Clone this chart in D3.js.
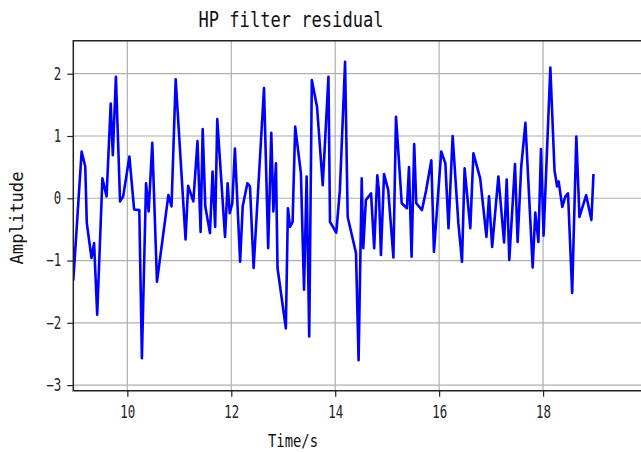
<!DOCTYPE html>
<html>
<head>
<meta charset="utf-8">
<script src="https://cdn.jsdelivr.net/npm/d3@7"></script>
<style>
body { margin: 0; background: #fff; }
</style>
</head>
<body>
<div class="chart"></div>
<script>
// time stamps (s) of each vertex
var times = [8.96, 9.12, 9.19, 9.22, 9.31, 9.36, 9.42, 9.52, 9.60, 9.68, 9.72, 9.78, 9.86, 9.92,
	10.04, 10.13, 10.23, 10.28, 10.36, 10.41, 10.48, 10.57, 10.79, 10.85, 10.93, 11.12, 11.17, 11.27,
	11.35, 11.41, 11.45, 11.50, 11.59, 11.64, 11.69, 11.73, 11.88, 11.93, 11.97, 12.02, 12.07, 12.17,
	12.22, 12.31, 12.36, 12.43, 12.63, 12.71, 12.77, 12.81, 12.86, 12.89, 13.05, 13.09, 13.13, 13.18,
	13.23, 13.34, 13.40, 13.45, 13.50, 13.55, 13.65, 13.76, 13.87, 13.90, 14.02, 14.09, 14.19, 14.24,
	14.40, 14.45, 14.51, 14.54, 14.59, 14.69, 14.75, 14.81, 14.84, 14.88, 14.94, 15.02, 15.12, 15.17,
	15.28, 15.38, 15.42, 15.47, 15.52, 15.56, 15.67, 15.75, 15.85, 15.90, 16.04, 16.12, 16.18, 16.26,
	16.37, 16.44, 16.49, 16.60, 16.66, 16.79, 16.91, 16.96, 17.02, 17.14, 17.25, 17.30, 17.35, 17.46,
	17.51, 17.58, 17.66, 17.80, 17.85, 17.91, 17.96, 18.01, 18.14, 18.22, 18.27, 18.30, 18.37, 18.43,
	18.48, 18.56, 18.64, 18.70, 18.83, 18.93, 18.97];

var residual = [-1.32, 0.75, 0.51, -0.40, -0.96, -0.72, -1.87, 0.32, 0.03, 1.52, 0.69, 1.95, -0.05, 0.03,
	0.67, -0.18, -0.19, -2.57, 0.24, -0.21, 0.89, -1.34, 0.05, -0.13, 1.91, -0.66, 0.20, -0.05,
	0.92, -0.54, 1.11, -0.13, -0.56, 0.43, -0.46, 1.27, -0.62, 0.24, -0.24, -0.08, 0.80, -1.02,
	-0.13, 0.24, 0.19, -1.12, 1.77, -0.80, 1.05, -0.21, 0.56, -1.12, -2.09, -0.16, -0.46, -0.38,
	1.15, 0.40, -1.47, 0.35, -2.22, 1.90, 1.47, 0.21, 1.95, -0.38, -0.55, 0.13, 2.19, -0.30,
	-0.88, -2.60, 0.32, -0.80, -0.03, 0.08, -0.80, 0.37, 0.13, -0.91, 0.39, 0.13, -0.95, 1.31,
	-0.08, -0.16, 0.50, -0.94, 0.87, -0.08, -0.19, 0.13, 0.61, -0.86, 0.75, 0.56, -0.48, 1.00,
	-0.40, -1.02, 0.48, -0.48, 0.72, 0.32, -0.62, 0.03, -0.78, 0.35, -0.71, 0.30, -0.99, 0.55,
	-0.70, 0.51, 1.21, -1.11, -0.23, -0.70, 0.79, -0.60, 2.10, 0.45, 0.19, 0.27, -0.14, 0.03,
	0.08, -1.52, 0.99, -0.30, 0.05, -0.35, 0.39];

var xTicks = [10, 12, 14, 16, 18];
var yTicks = [-3, -2, -1, 0, 1, 2];

var chart = {
	init: function() {
		var w = 641;
		var h = 452;
		var left = 73.3, right = 647, top = 40.7, bottom = 390.7;
		var font = 'DejaVu Sans Mono, monospace';

		var svg = d3.select('.chart')
			.append('svg')
			.attr('width', w)
			.attr('height', h)
			.style('display', 'block');

		var x = d3.scaleLinear().domain([8.96, 20]).range([left, right]);
		var y = d3.scaleLinear().domain([-3.09, 2.53]).range([bottom, top]);

		svg.append('clipPath').attr('id', 'plot-clip')
			.append('rect')
			.attr('x', left).attr('y', top)
			.attr('width', right - left).attr('height', bottom - top);

		// grid
		svg.append('g').selectAll('line')
			.data(xTicks)
			.enter()
			.append('line')
			.attr('x1', function(d){ return x(d); })
			.attr('x2', function(d){ return x(d); })
			.attr('y1', top).attr('y2', bottom)
			.attr('stroke', '#b0b0b0').attr('stroke-width', 1.2);

		svg.append('g').selectAll('line')
			.data(yTicks)
			.enter()
			.append('line')
			.attr('x1', left).attr('x2', right)
			.attr('y1', function(d){ return y(d); })
			.attr('y2', function(d){ return y(d); })
			.attr('stroke', '#b0b0b0').attr('stroke-width', 1.2);

		// the residual line
		var line = d3.line()
			.x(function(d){ return x(d[0]); })
			.y(function(d){ return y(d[1]); });

		svg.append('path')
			.datum(d3.zip(times, residual))
			.attr('clip-path', 'url(#plot-clip)')
			.attr('d', line)
			.attr('fill', 'none')
			.attr('stroke', '#0000ff')
			.attr('stroke-width', 2.6)
			.attr('stroke-linejoin', 'round');

		// axes
		var xAxis = d3.axisBottom(x).tickValues(xTicks).tickSize(6).tickPadding(9)
			.tickFormat(d3.format('d'));
		var yAxis = d3.axisLeft(y).tickValues(yTicks).tickSize(6).tickPadding(6)
			.tickFormat(function(d){ return d < 0 ? '\u2212' + Math.abs(d) : d; });

		var gx = svg.append('g').attr('transform', 'translate(0,' + bottom + ')').call(xAxis);
		var gy = svg.append('g').attr('transform', 'translate(' + left + ',0)').call(yAxis);

		[gx, gy].forEach(function(g){
			g.select('.domain').remove();
			g.selectAll('.tick line').attr('stroke', '#222').attr('stroke-width', 1.2);
			g.selectAll('.tick text')
				.attr('fill', '#222')
				.attr('font-family', font)
				.attr('font-size', '17px')
				.attr('textLength', function(){ return 7.5 * this.textContent.length; })
				.attr('lengthAdjust', 'spacingAndGlyphs');
		});

		// spines (top, left, bottom; right edge is off the picture)
		svg.append('path')
			.attr('d', 'M' + right + ',' + top + 'H' + left + 'V' + bottom + 'H' + right)
			.attr('fill', 'none')
			.attr('stroke', '#222')
			.attr('stroke-width', 1.5);

		svg.append('text')
			.text('HP filter residual')
			.attr('x', 291)
			.attr('y', 27)
			.attr('text-anchor', 'middle')
			.attr('font-family', font)
			.attr('font-size', '21px')
			.attr('fill', '#111')
			.attr('textLength', 185)
			.attr('lengthAdjust', 'spacingAndGlyphs');

		svg.append('text')
			.text('Time/s')
			.attr('x', 293)
			.attr('y', 447)
			.attr('text-anchor', 'middle')
			.attr('font-family', font)
			.attr('font-size', '17px')
			.attr('fill', '#111')
			.attr('textLength', 50)
			.attr('lengthAdjust', 'spacingAndGlyphs');

		svg.append('text')
			.text('Amplitude')
			.attr('transform', 'translate(23,218) rotate(-90)')
			.attr('text-anchor', 'middle')
			.attr('font-family', font)
			.attr('font-size', '17px')
			.attr('fill', '#111')
			.attr('textLength', 93)
			.attr('lengthAdjust', 'spacingAndGlyphs');
	}
};

chart.init();
</script>
</body>
</html>
